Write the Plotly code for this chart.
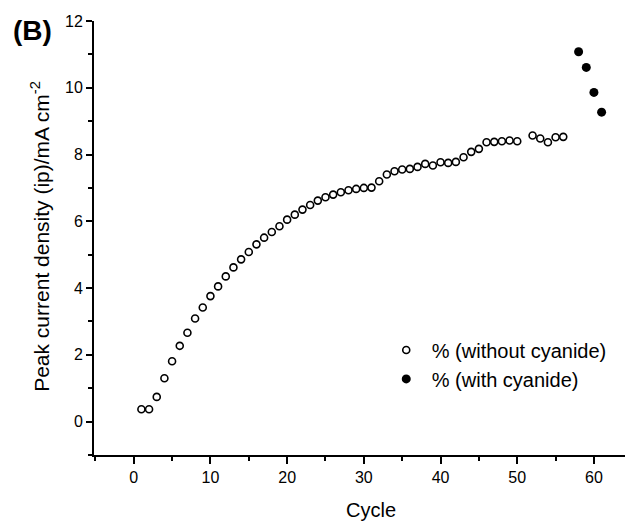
import plotly.graph_objects as go

cycles_without = list(range(1, 51)) + [52, 53, 54, 55, 56]
ip_without = [0.37, 0.37, 0.74, 1.30, 1.81, 2.27, 2.66, 3.09, 3.42, 3.76,
              4.05, 4.35, 4.62, 4.86, 5.08, 5.31, 5.51, 5.68, 5.85, 6.05,
              6.20, 6.35, 6.49, 6.62, 6.72, 6.80, 6.87, 6.93, 6.97, 7.00,
              7.01, 7.20, 7.40, 7.50, 7.55, 7.57, 7.63, 7.72, 7.67, 7.77,
              7.75, 7.78, 7.92, 8.08, 8.17, 8.37, 8.38, 8.40, 8.42, 8.40,
              8.57, 8.48, 8.37, 8.52, 8.53]

cycles_with = [58, 59, 60, 61]
ip_with = [11.08, 10.61, 9.86, 9.27]

x_ticks = [0, 10, 20, 30, 40, 50, 60]
y_ticks = [0, 2, 4, 6, 8, 10, 12]

FONT = "Liberation Sans, Arial, sans-serif"

fig = go.Figure()
fig.add_trace(go.Scatter(
    x=cycles_without, y=ip_without, mode="markers",
    name="% (without cyanide)",
    marker=dict(symbol="circle-open", size=7, color="black",
                line=dict(width=1.6, color="black")),
))
fig.add_trace(go.Scatter(
    x=cycles_with, y=ip_with, mode="markers",
    name="% (with cyanide)",
    marker=dict(symbol="circle", size=9, color="black"),
))

fig.update_layout(
    width=625, height=523,
    margin=dict(l=94, r=0, t=21, b=68),
    plot_bgcolor="white", paper_bgcolor="white",
    font=dict(family=FONT, size=16, color="black"),
    showlegend=True,
    legend=dict(x=0.540, y=0.287, xanchor="left", yanchor="top",
                font=dict(size=20, family=FONT), bgcolor="rgba(0,0,0,0)",
                tracegroupgap=0, itemwidth=41),
    xaxis=dict(
        range=[-5.18, 64.05], tickvals=x_ticks, ticks="outside", ticklen=7,
        tickwidth=2, tickcolor="black", showline=True, linewidth=2,
        linecolor="black", showgrid=False, zeroline=False,
        minor=dict(dtick=5, tick0=5, ticks="outside", ticklen=4, tickwidth=2,
                   tickcolor="black", showgrid=False),
        tickfont=dict(size=16),
    ),
    yaxis=dict(
        range=[-1.0, 12.0], tickvals=y_ticks, ticks="outside", ticklen=6,
        tickwidth=2, tickcolor="black", showline=True, linewidth=2,
        linecolor="black", showgrid=False, zeroline=False,
        minor=dict(dtick=2, tick0=1, ticks="outside", ticklen=4, tickwidth=2,
                   tickcolor="black", showgrid=False),
        tickfont=dict(size=16),
    ),
)

fig.add_annotation(text="Cycle", xref="paper", yref="paper",
                   x=0.5217, y=-0.126, xanchor="center", yanchor="middle",
                   showarrow=False, font=dict(size=20, family=FONT))

fig.add_annotation(text="Peak current density (ip)/mA cm<sup>-2</sup>",
                   xref="paper", yref="paper", x=-0.1017, y=0.505,
                   xanchor="center", yanchor="middle", textangle=-90,
                   showarrow=False, font=dict(size=21, family=FONT))

fig.add_annotation(text="<b>(B)</b>", xref="paper", yref="paper",
                   x=-0.156, y=0.979, xanchor="left", yanchor="middle",
                   showarrow=False, font=dict(size=28, family=FONT))

fig.write_html("out.html")
